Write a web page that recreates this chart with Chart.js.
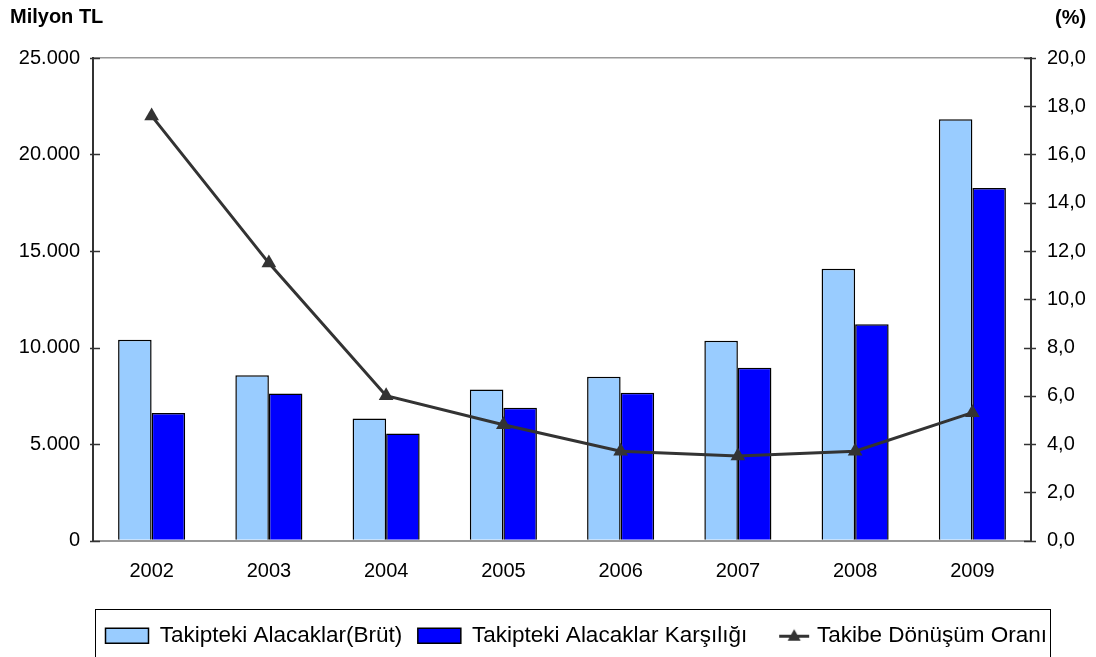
<!DOCTYPE html>
<html>
<head>
<meta charset="utf-8">
<script src="https://cdn.jsdelivr.net/npm/chart.js@4.4.1/dist/chart.umd.min.js"></script>
<style>
  html, body { margin: 0; padding: 0; background: #fff; }
  canvas { display: block; }
</style>
</head>
<body>
<canvas id="chart" width="1096" height="657"></canvas>
<script>
// Takipteki alacaklar (milyon TL) ve takibe dönüşüm oranı (%)
const years = ['2002', '2003', '2004', '2005', '2006', '2007', '2008', '2009'];
const brutAlacak = [10400, 8560, 6320, 7820, 8490, 10350, 14080, 21830];
const karsilik = [6610, 7620, 5540, 6880, 7660, 8950, 11200, 18260];
const donusumOrani = [17.6, 11.5, 6.0, 4.8, 3.7, 3.5, 3.7, 5.3];
const leftTickLabels = ['0', '5.000', '10.000', '15.000', '20.000', '25.000'];
const rightTickLabels = ['0,0', '2,0', '4,0', '6,0', '8,0', '10,0', '12,0', '14,0', '16,0', '18,0', '20,0'];
const seriesNames = ['Takipteki Alacaklar(Brüt)', 'Takipteki Alacaklar Karşılığı', 'Takibe Dönüşüm Oranı'];

const FONT = "'Liberation Sans', Arial, sans-serif";
const LIGHT = '#99CCFF';
const BLUE = '#0000FF';
const LINE = '#333333';

// legend glyph for the line series: a short line with a triangle marker,
// sitting in the right part of a wider canvas
const lineGlyph = document.createElement('canvas');
lineGlyph.width = 62;
lineGlyph.height = 18;
(function () {
  const g = lineGlyph.getContext('2d');
  g.strokeStyle = LINE;
  g.lineWidth = 3;
  g.beginPath();
  g.moveTo(26, 9.5);
  g.lineTo(56, 9.5);
  g.stroke();
  g.fillStyle = LINE;
  g.beginPath();
  g.moveTo(41, 2.5);
  g.lineTo(47.5, 14);
  g.lineTo(34.5, 14);
  g.closePath();
  g.fill();
})();

// tick marks that cross the two value axes
const crossTicks = {
  id: 'crossTicks',
  afterDraw(chart) {
    const ctx = chart.ctx;
    ctx.save();
    ctx.strokeStyle = '#333';
    ctx.lineWidth = 1.5;
    [['y', -3, 7], ['y1', -7, 5]].forEach(([id, a, b]) => {
      const s = chart.scales[id];
      const x = id === 'y' ? s.right : s.left;
      s.ticks.forEach((t, i) => {
        const py = Math.round(s.getPixelForTick(i)) + 0.5;
        ctx.beginPath();
        ctx.moveTo(x + a, py);
        ctx.lineTo(x + b, py);
        ctx.stroke();
      });
    });
    ctx.restore();
  }
};

// unit captions above both axes and the frame around the legend
const decorations = {
  id: 'decorations',
  afterLayout(chart) {
    const lg = chart.legend;
    lg.left = 90;
    lg.right = 1096;
    lg.top = 609;
  },
  afterDraw(chart) {
    const ctx = chart.ctx;
    ctx.save();
    ctx.fillStyle = '#000';
    ctx.font = 'bold 20px ' + FONT;
    ctx.textBaseline = 'alphabetic';
    ctx.textAlign = 'left';
    ctx.fillText('Milyon TL', 10, 23);
    ctx.fillText('(%)', 1055, 24);
    ctx.strokeStyle = '#000';
    ctx.lineWidth = 1;
    ctx.strokeRect(95.5, 609.5, 955, 60);
    ctx.restore();
  }
};

Chart.defaults.color = '#000';
Chart.defaults.font.family = FONT;

new Chart(document.getElementById('chart'), {
  type: 'bar',
  data: {
    labels: years,
    datasets: [
      {
        label: seriesNames[0],
        data: brutAlacak,
        backgroundColor: LIGHT,
        borderColor: '#000',
        borderWidth: 1.5,
        yAxisID: 'y',
        order: 1,
        categoryPercentage: 0.572,
        barPercentage: 1.0
      },
      {
        label: seriesNames[1],
        data: karsilik,
        backgroundColor: BLUE,
        borderColor: '#000',
        borderWidth: 1.5,
        yAxisID: 'y',
        order: 1,
        categoryPercentage: 0.572,
        barPercentage: 1.0
      },
      {
        type: 'line',
        label: seriesNames[2],
        data: donusumOrani,
        borderColor: LINE,
        backgroundColor: LINE,
        borderWidth: 3,
        tension: 0,
        pointStyle: 'triangle',
        pointRadius: 8.5,
        pointBorderWidth: 0,
        pointBackgroundColor: LINE,
        yAxisID: 'y1',
        order: 0
      }
    ]
  },
  options: {
    responsive: false,
    devicePixelRatio: 1,
    animation: false,
    layout: { padding: { top: 58, left: 0, right: 0, bottom: 0 } },
    plugins: {
      tooltip: { enabled: false },
      title: { display: false },
      legend: {
        display: true,
        position: 'bottom',
        align: 'start',
        labels: {
          usePointStyle: true,
          pointStyleWidth: 43,
          boxWidth: 43,
          boxHeight: 15,
          padding: 15.5,
          color: '#000',
          font: { size: 22.5, family: FONT },
          generateLabels: () => [
            { text: seriesNames[0], fillStyle: LIGHT, strokeStyle: '#000', lineWidth: 1.5, pointStyle: 'rect', datasetIndex: 0, fontColor: '#000' },
            { text: seriesNames[1], fillStyle: BLUE, strokeStyle: '#000', lineWidth: 1.5, pointStyle: 'rect', datasetIndex: 1, fontColor: '#000' },
            { text: seriesNames[2], fillStyle: LINE, strokeStyle: LINE, lineWidth: 0, pointStyle: lineGlyph, datasetIndex: 2, fontColor: '#000' }
          ]
        }
      }
    },
    scales: {
      x: {
        offset: true,
        grid: { display: false, drawTicks: false },
        border: { display: true, color: '#999', width: 2 },
        ticks: { color: '#000', font: { size: 20 }, padding: 19, maxRotation: 0 },
        afterFit(scale) { scale.height = 68.5; }
      },
      y: {
        position: 'left',
        min: 0,
        max: 25000,
        ticks: {
          stepSize: 5000,
          padding: 13,
          color: '#000',
          font: { size: 20 },
          callback: (v, i) => leftTickLabels[i]
        },
        grid: {
          drawTicks: false,
          color: (c) => (c.tick && c.tick.value === 25000 ? '#999' : 'rgba(0,0,0,0)'),
          lineWidth: 1.5
        },
        border: { display: true, color: '#333', width: 2 },
        afterFit(scale) { scale.width = 93; }
      },
      y1: {
        position: 'right',
        min: 0,
        max: 20,
        ticks: {
          stepSize: 2,
          padding: 16,
          color: '#000',
          font: { size: 20 },
          callback: (v, i) => rightTickLabels[i]
        },
        grid: { display: false, drawTicks: false },
        border: { display: true, color: '#333', width: 2 },
        afterFit(scale) { scale.width = 65; }
      }
    }
  },
  plugins: [crossTicks, decorations]
});
</script>
</body>
</html>
